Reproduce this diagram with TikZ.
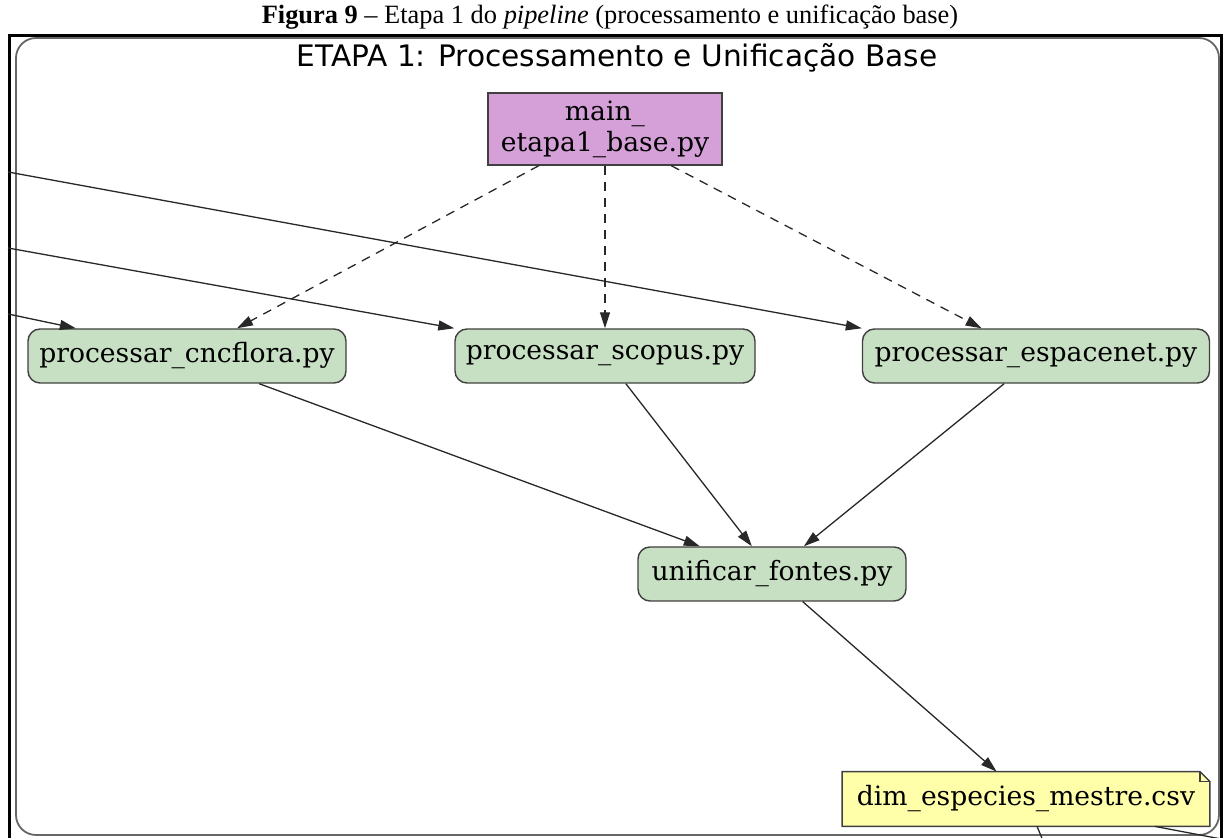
\documentclass[tikz,border=0pt]{standalone}
\usepackage{fontspec}
\setmainfont{Liberation Serif}
\newfontfamily\dejaserif{DejaVu Serif}
\newfontfamily\dejasans{DejaVu Sans}
\usetikzlibrary{arrows.meta,backgrounds}

\definecolor{procgreen}{RGB}{199,224,195}
\definecolor{runviolet}{RGB}{213,160,216}
\definecolor{fileyellow}{RGB}{255,255,170}
\definecolor{edgegray}{RGB}{40,40,40}

\tikzset{
  script/.style={draw=black!75, fill=procgreen, rounded corners=6pt, line width=0.7pt,
    minimum height=27pt, inner sep=0pt, font=\dejaserif\fontsize{13.3}{15.5}\selectfont},
  runner/.style={script, fill=runviolet, rounded corners=0pt, align=center, minimum height=36pt},
  datafile/.style={minimum height=27pt, inner sep=0pt, font=\dejaserif\fontsize{13.3}{15.5}\selectfont},
  flow/.style={-{Triangle[length=8pt,width=5pt]}, line width=0.65pt, draw=edgegray},
  call/.style={flow, dash pattern=on 4.5pt off 3.5pt},
}

\begin{document}
\begin{tikzpicture}[x=0.5pt, y=-0.5pt]
  \useasboundingbox (0,0) rectangle (1223,838);
  \clip (0,0) rectangle (1223,838);

  \node [anchor=base, font=\fontsize{13.2}{15}\selectfont] (caption) at (610,24)
    {\textbf{Figura 9} -- Etapa 1 do \textit{pipeline} (processamento e unificação base)};

  \draw [line width=1.5pt] (9,36) rectangle (1221,860);
  \draw [black!60, line width=0.9pt, rounded corners=10pt] (16,38) rectangle (1219,835);
  \node [anchor=base, font=\dejasans\fontsize{14.8}{17}\selectfont] (title) at (617,67)
    {ETAPA 1: Processamento e Unificação Base};

  \node [runner, minimum width=117pt] (main) at (605,129) {main\_\\etapa1\_base.py};
  \node [script, minimum width=159pt] (cncflora) at (187,356) {processar\_cncflora.py};
  \node [script, minimum width=150pt] (scopus) at (605,356) {processar\_scopus.py};
  \node [script, minimum width=173.5pt] (espacenet) at (1036,356) {processar\_espacenet.py};
  \node [script, minimum width=134pt] (unified) at (772,574) {unificar\_fontes.py};
  \node [datafile, minimum width=183.5pt] (master) at (1026,799) {dim\_especies\_mestre.csv};

  % note shape of the csv
  \begin{scope}[on background layer]
    \filldraw [fill=fileyellow, draw=black!75, line width=0.7pt]
      (master.south west) -- (master.north west) -- ([xshift=-5pt]master.north east)
      -- ([yshift=-5pt]master.north east) -- (master.south east) -- cycle;
    \draw [black!75, line width=0.7pt] ([xshift=-5pt]master.north east) |- ([yshift=-5pt]master.north east);
  \end{scope}

  \coordinate (from1) at (8,172);
  \coordinate (from2) at (8,248);
  \coordinate (from3) at (8,314);
  \coordinate (to1) at (1059,880);
  \coordinate (to2) at (1300,854);

  \draw [call] (main.-151) -- (cncflora.29);
  \draw [call] (main.south) -- (scopus.north);
  \draw [call] (main.-29) -- (espacenet.153);

  \draw [flow] (from1) -- (espacenet.north west);
  \draw [flow] (from2) -- (scopus.north west);
  \draw [flow] (from3) -- (cncflora.166);

  \draw [flow] (cncflora.-21) -- (unified.159);
  \draw [flow] (scopus.-53) -- (unified.126);
  \draw [flow] (espacenet.-139) -- (unified.41);
  \draw [flow] (unified.-42) -- (master.137);

  \draw [flow] (master.-68) -- (to1);
  \draw [flow] (master.-12) -- (to2);
\end{tikzpicture}
\end{document}
